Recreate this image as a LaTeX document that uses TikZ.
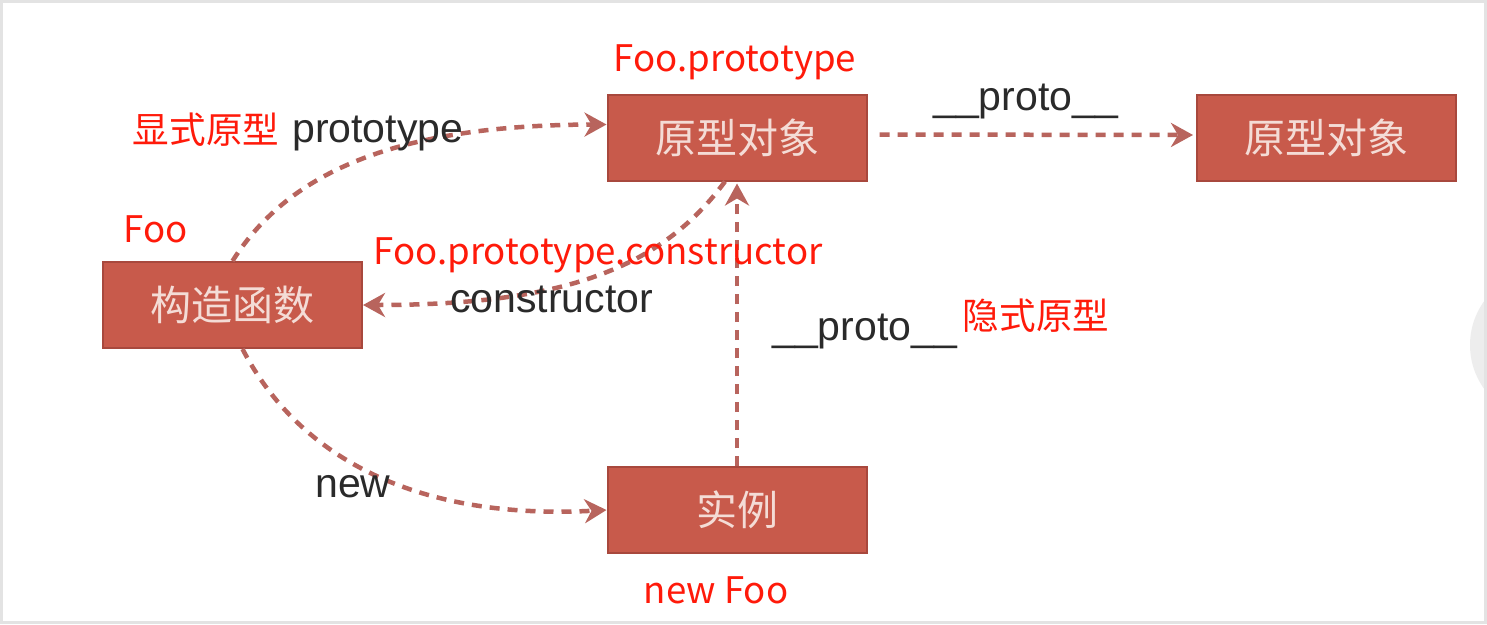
\documentclass[tikz,border=0pt]{standalone}
\usepackage{fontspec}
\setmainfont{Liberation Sans}
\newfontfamily\cjk{Noto Sans CJK SC}
\usetikzlibrary{arrows.meta}
\definecolor{boxfill}{HTML}{C85A4B}
\definecolor{boxline}{HTML}{A8483D}
\definecolor{boxtext}{HTML}{F4DCD6}
\definecolor{edgecol}{HTML}{B8645D}
\definecolor{graytxt}{HTML}{2A2A2A}
\definecolor{redtxt}{HTML}{FF1A0A}
\tikzset{
  box/.style={draw=boxline, line width=2pt, fill=boxfill, minimum width=259pt, minimum height=86pt, inner sep=0pt, text=boxtext, font=\cjk\fontsize{41}{45}\selectfont},
  link/.style={draw=edgecol, line width=4.5pt, dash pattern=on 10pt off 8pt, -{Stealth[length=22pt,width=24pt,inset=7pt]}},
  redlab/.style={text=redtxt, font=\cjk\fontsize{36.6}{40}\selectfont, inner sep=0pt},
  graylab/.style={text=graytxt, font=\fontsize{41}{45}\selectfont, inner sep=0pt}
}
\begin{document}
\begin{tikzpicture}[x=1pt,y=-1pt]
\useasboundingbox (0,0) rectangle (1487,624);
\fill[white] (0,0) rectangle (1487,624);
\begin{scope}
\clip (0,0) rectangle (1487,624);
\fill[gray!14] (1545,345) circle (75);
\end{scope}
\draw[gray!22, line width=3pt] (1.5,1.5) rectangle (1485.5,622.5);

% boxes
\node[box] (ctor) at (232.5,305) {构造函数};
\node[box] (proto1) at (737,137.5) {原型对象};
\node[box] (proto2) at (1326.5,138) {原型对象};
\node[box] (inst) at (737,510) {实例};

% connectors
\draw[link] (ctor.north) .. controls (290,170) and (400,125) .. ([yshift=13pt]proto1.west);
\draw[link, shorten <=12pt, shorten >=3pt] ([yshift=3pt]proto1.east) -- ([yshift=3pt]proto2.west);
\draw[link] ([xshift=-12pt]proto1.south) .. controls (660,270) and (560,305) .. (ctor.east);
\draw[link, shorten >=2pt] (inst.north) -- (proto1.south);
\draw[link] ([xshift=10pt]ctor.south) .. controls (300,460) and (420,520) .. (inst.west);

% gray labels
\node[graylab, anchor=base west] (lproto) at (292,142) {prototype};
\node[graylab, anchor=base west] (lctor) at (450,312) {constructor};
\node[graylab, anchor=base west] (lp1) at (933,110) {\_\_proto\_\_};
\node[graylab, anchor=base west] (lp2) at (772,340) {\_\_proto\_\_};
\node[graylab, anchor=base west] (lnew) at (315,497) {new};

% red labels
\node[redlab] (rfp) at (735,62) {Foo.prototype};
\node[redlab] (rxs) at (206,130) {显式原型};
\node[redlab] (rfoo) at (156,229) {Foo};
\node[redlab] (rfpc) at (598,255) {Foo.prototype.constructor};
\node[redlab] (rys) at (1036,316) {隐式原型};
\node[redlab] (rnf) at (716,590) {new Foo};
\end{tikzpicture}
\end{document}
